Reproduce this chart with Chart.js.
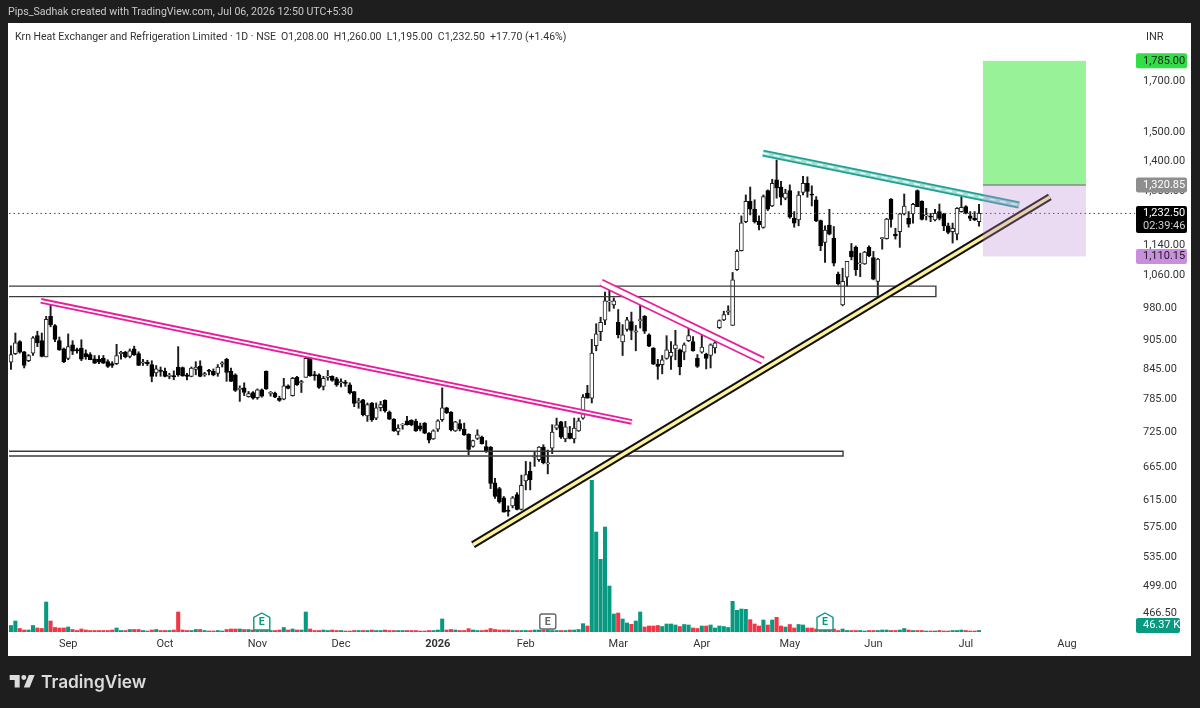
<!DOCTYPE html>
<html>
<head>
<meta charset="utf-8">
<title>Krn Heat Exchanger and Refrigeration Limited</title>
<script src="https://cdn.jsdelivr.net/npm/chart.js@4"></script>
<style>
  html, body { margin: 0; padding: 0; background: #1e1e1e; }
  #wrap { position: relative; width: 1200px; height: 708px; overflow: hidden; font-family: Roboto, sans-serif; }
  #panel { position: absolute; left: 8px; top: 23px; width: 1183px; height: 633px; background: #fff; }
  canvas { position: absolute; left: 0; top: 0; }
  #created { position: absolute; left: 8px; top: 5px; font-size: 10.6px; color: #c9c9c9; white-space: nowrap; }
  #title { position: absolute; left: 15px; top: 30px; font-size: 10.5px; color: #333; white-space: nowrap; }
  #logo { position: absolute; left: 8px; top: 670px; }
  #brand { position: absolute; left: 41px; top: 671px; font-family: Inter, sans-serif; font-size: 17.3px; font-weight: 600; color: #dcdcdc; }
</style>
</head>
<body>
<div id="wrap">
  <div id="panel"></div>
  <canvas id="chart" width="1200" height="708"></canvas>
  <div id="created">Pips_Sadhak created with TradingView.com, Jul 06, 2026 12:50 UTC+5:30</div>
  <div id="title">Krn Heat Exchanger and Refrigeration Limited · 1D · NSE &nbsp;O1,208.00 &nbsp;H1,260.00 &nbsp;L1,195.00 &nbsp;C1,232.50 &nbsp;+17.70 (+1.46%)</div>
  <svg id="logo" width="30" height="23.3" viewBox="0 0 36 28"><path fill="#dcdcdc" d="M14 6H2v6h6v9h6V6Zm12 15h-7l6-15h7l-6 15Zm-7-9a3 3 0 1 0 0-6 3 3 0 0 0 0 6Z"/></svg>
  <div id="brand">TradingView</div>
</div>
<script>
// daily candles
var opens = [
  859,877,903,881,862,878,916,905,870,960,
  939,905,887,867,896,884,889,877,875,866,
  865,867,860,856,856,877,880,871,887,877,
  857,857,854,837,841,840,830,831,849,848,
  833,830,844,851,833,841,840,836,855,865,
  840,833,804,807,790,798,788,803,840,796,
  797,787,785,811,792,828,817,828,867,832,
  833,810,828,830,825,817,817,813,800,778,
  784,754,778,750,769,783,761,748,726,737,
  745,746,744,736,741,723,713,730,747,769,
  761,727,740,730,721,700,714,716,700,699,
  641,632,618,600,606,623,601,644,659,682,
  678,699,671,697,732,743,713,723,713,727,
  750,797,787,894,925,951,994,987,946,902,
  930,948,924,950,960,918,889,855,854,867,
  871,887,885,880,905,903,867,880,876,873,
  889,934,952,970,939,1075,1126,1208,1269,1245,
  1210,1191,1303,1255,1337,1314,1279,1303,1218,1213,
  1297,1326,1289,1274,1211,1149,1198,1161,1064,987,
  1056,1125,1136,1090,1090,1135,1107,1045,1159,1159,
  1276,1172,1179,1231,1218,1231,1303,1269,1225,1223,
  1213,1238,1231,1196,1179,1172,1238,1253,1225,1218,
  1208
];
var highs = [
  894,922,905,882,875,914,926,922,960,987,
  941,913,889,920,905,889,907,885,879,873,
  873,873,864,860,897,882,882,887,893,881,
  865,863,862,852,849,847,836,841,892,849,
  836,849,860,862,838,844,845,854,860,867,
  847,835,811,817,800,800,805,805,841,800,
  799,791,826,813,828,830,822,875,868,840,
  835,830,842,831,828,825,822,817,800,787,
  785,778,779,778,781,784,763,749,738,740,
  753,747,748,741,742,724,729,747,807,770,
  762,744,747,741,722,711,729,718,710,700,
  648,634,620,606,620,626,653,675,674,691,
  700,703,694,738,750,744,744,735,750,750,
  794,812,908,943,958,1018,1031,1004,976,941,
  958,970,939,987,962,920,890,865,873,916,
  903,928,887,900,933,914,875,920,878,898,
  907,952,972,985,1068,1128,1225,1289,1314,1274,
  1225,1289,1305,1339,1403,1332,1307,1321,1238,1300,
  1349,1347,1318,1284,1213,1196,1245,1194,1069,1079,
  1097,1146,1139,1119,1124,1139,1124,1105,1163,1218,
  1278,1189,1233,1292,1238,1263,1305,1271,1248,1233,
  1245,1261,1233,1204,1204,1250,1284,1256,1238,1238,
  1260
];
var lows = [
  844,875,878,847,860,873,892,870,870,936,
  903,884,858,864,875,878,862,865,864,856,
  856,856,848,848,854,865,868,868,873,852,
  852,852,819,830,830,829,825,823,830,830,
  823,829,833,829,830,833,831,830,849,820,
  820,800,781,792,789,785,785,789,804,791,
  788,781,784,805,791,812,798,828,830,822,
  806,803,822,820,810,809,810,795,771,768,
  754,744,744,747,763,761,747,726,720,730,
  737,736,726,727,722,706,712,726,744,758,
  727,726,727,719,686,699,712,704,690,632,
  617,610,597,591,603,600,600,630,630,667,
  675,671,655,688,729,714,708,713,706,726,
  748,787,778,883,905,941,972,979,911,873,
  926,907,883,933,921,892,854,824,835,865,
  844,864,833,864,903,882,848,878,845,847,
  878,932,950,964,939,1073,1125,1205,1228,1204,
  1184,1189,1241,1253,1279,1258,1274,1218,1192,1196,
  1289,1282,1255,1208,1126,1094,1170,1085,1036,985,
  1033,1101,1060,1057,1089,1110,1049,1010,1130,1158,
  1192,1158,1135,1228,1192,1204,1253,1213,1213,1208,
  1210,1213,1182,1173,1147,1156,1236,1231,1211,1211,
  1195
];
var closes = [
  875,900,880,852,873,911,900,871,953,941,
  908,885,860,892,882,883,865,870,864,857,
  859,857,850,852,873,878,870,883,875,852,
  857,856,830,845,840,830,830,829,833,831,
  830,847,849,830,833,840,833,849,855,838,
  820,802,804,798,796,787,803,791,805,796,
  789,783,811,806,826,813,817,867,831,831,
  808,826,829,822,813,817,816,797,777,782,
  756,775,747,769,775,763,748,727,732,737,
  738,738,727,730,723,711,727,745,769,760,
  729,743,730,720,695,710,720,705,691,640,
  620,612,597,598,618,601,637,654,646,682,
  699,673,672,725,738,716,734,714,732,745,
  789,787,878,920,946,997,995,997,918,918,
  952,928,925,950,926,893,855,850,864,885,
  880,896,849,896,916,883,850,891,867,896,
  900,950,964,970,1049,1124,1205,1269,1245,1208,
  1199,1284,1245,1326,1311,1282,1295,1221,1204,1289,
  1326,1300,1288,1210,1139,1184,1172,1092,1039,1045,
  1097,1109,1075,1091,1122,1112,1051,1103,1160,1216,
  1215,1167,1231,1255,1201,1260,1253,1215,1225,1221,
  1233,1218,1196,1177,1189,1248,1251,1233,1218,1213,
  1232.5
];
// volume in thousands
var volumes = [
  195,330,105,60,60,195,120,105,900,330,
  135,120,120,150,75,45,90,60,45,45,
  45,45,45,60,120,45,45,75,75,75,
  45,30,60,75,45,45,45,60,600,60,
  45,45,75,75,45,30,30,45,30,75,
  90,90,90,75,75,60,45,45,45,45,
  45,60,135,60,90,60,60,600,90,45,
  45,60,45,60,45,45,30,30,45,45,
  45,45,60,45,45,60,45,45,45,45,
  45,45,45,30,30,45,45,60,390,60,
  75,60,45,45,100,60,45,45,60,105,
  75,60,60,60,45,45,45,45,45,60,
  60,60,60,45,45,45,45,60,60,75,
  250,180,4550,3000,2180,3150,1380,540,570,390,
  270,230,330,600,150,180,180,195,165,240,
  240,210,165,225,210,120,105,180,180,210,
  120,180,165,135,920,650,690,680,370,240,
  180,360,210,360,440,180,150,225,120,225,
  210,120,120,90,60,60,60,90,45,90,
  45,45,45,45,30,45,45,45,60,60,
  45,45,60,105,60,45,45,45,30,30,
  30,45,30,30,45,45,60,45,30,30,
  46.37
];

// axis ticks
var monthBars = [13,35,56,75,97,117,138,157,177,196,217,240];
var monthLabels = ["Sep","Oct","Nov","Dec","2026","Feb","Mar","Apr","May","Jun","Jul","Aug"];
var priceTicks = [1700,1500,1400,1300,1140,1060,980,905,845,785,725,665,615,575,535,499,466.5];

// drawings: bar numbers and prices of the end points
var longFallX = [6.8,141.1],   longFallY = [997,743];
var shortFallX = [134.1,170.9], shortFallY = [1042,862];
var topFallX = [170.9,229.1],  topFallY = [1427,1258];
var riseX = [105,236.1],       riseY = [551.5,1283];
var upperZoneX = [-0.45,210.2], upperZoneY = [1033,1007];
var lowerZoneX = [-0.45,189.1], lowerZoneY = [692,684];

var earningsBars = [57,122,185];
var lastPrice = 1232.5;
var countdown = "02:39:46";
var targetPrice = 1785, entryPrice = 1320.85, stopPrice = 1110.15;
var positionBars = [220.9,244.3];

var barIdx = opens.map(function(v, i){ return i; });
function isUp(i){ return closes[i] >= opens[i]; }

function lineSet(xs, ys, color, width, order, dash){
	return {
		type: "line",
		data: xs.map(function(x, i){ return {x: x, y: ys[i]}; }),
		borderColor: color,
		borderWidth: width,
		borderDash: dash || [],
		pointRadius: 0,
		tension: 0,
		yAxisID: "y",
		order: order
	};
}
function zoneSet(xs, ys){
	return lineSet([xs[0],xs[1],xs[1],xs[0]], [ys[0],ys[0],ys[1],ys[1]], "#3c3c3c", 1.4, 6);
}

var datasets = [
	{
		data: barIdx.map(function(i){ return {x: i, y: volumes[i]}; }),
		yAxisID: "yVol",
		grouped: false,
		barThickness: 3.4,
		backgroundColor: barIdx.map(function(i){ return isUp(i) ? "#089981" : "#f23645"; }),
		order: 10
	},
	{
		data: barIdx.map(function(i){ return {x: i, y: [lows[i], highs[i]]}; }),
		yAxisID: "y",
		grouped: false,
		barThickness: 1.3,
		backgroundColor: "#1c1c1c",
		order: 9
	},
	{
		data: barIdx.map(function(i){ return {x: i, y: [opens[i], closes[i]]}; }),
		yAxisID: "y",
		grouped: false,
		barThickness: 4,
		minBarLength: 1.2,
		borderSkipped: false,
		borderWidth: 1,
		borderColor: barIdx.map(function(i){ return isUp(i) ? "#222" : "#000"; }),
		backgroundColor: barIdx.map(function(i){ return isUp(i) ? "#fff" : "#000"; }),
		order: 8
	},
	lineSet([-0.45,255.45], [lastPrice,lastPrice], "#444", 1, 7, [1.5,3]),
	zoneSet(upperZoneX, upperZoneY),
	zoneSet(lowerZoneX, lowerZoneY),
	lineSet(longFallX, longFallY, "#e91e9c", 5.6, 5),
	lineSet(longFallX, longFallY, "#fff", 1.8, 4),
	lineSet(shortFallX, shortFallY, "#e91e9c", 8, 5),
	lineSet(shortFallX, shortFallY, "#fff", 4.6, 4),
	lineSet(topFallX, topFallY, "#1fa292", 7, 5),
	lineSet(topFallX, topFallY, "#a3dcd5", 3.4, 4),
	lineSet(topFallX, topFallY, "#fff", 1.2, 3, [6,5]),
	lineSet(riseX, riseY, "#111", 7.4, 5),
	lineSet(riseX, riseY, "#fdf29a", 3.4, 4)
];

function money(v){
	return v.toLocaleString("en-US", {minimumFractionDigits: 2, maximumFractionDigits: 2});
}

function drawBadge(ctx, top, height, width, fill, lines, textColors){
	ctx.fillStyle = fill;
	ctx.beginPath();
	ctx.roundRect(1136, top, width, height, 2);
	ctx.fill();
	ctx.textAlign = "left";
	ctx.textBaseline = "middle";
	ctx.font = "11px Roboto";
	lines.forEach(function(text, i){
		ctx.fillStyle = textColors[i];
		ctx.fillText(text, 1143, top + 7.5 + i * 13);
	});
}

var positionPlugin = {
	id: "positionBox",
	afterDatasetsDraw: function(chart){
		var ctx = chart.ctx, x = chart.scales.x, y = chart.scales.y;
		var left = x.getPixelForValue(positionBars[0]), right = x.getPixelForValue(positionBars[1]);
		var top = y.getPixelForValue(targetPrice), mid = y.getPixelForValue(entryPrice), low = y.getPixelForValue(stopPrice);

		// earnings flags
		earningsBars.forEach(function(bar, i){
			var cx = x.getPixelForValue(bar), base = chart.chartArea.bottom;
			var color = i == 1 ? "#666" : "#089981";
			ctx.fillStyle = "#fff";
			ctx.strokeStyle = color;
			ctx.lineWidth = 1.4;
			ctx.beginPath();
			if(i == 1){
				ctx.roundRect(cx - 8, base - 18, 16, 15, 2);
			}else{
				ctx.moveTo(cx, base - 19);
				ctx.lineTo(cx + 8, base - 14.5);
				ctx.lineTo(cx + 8, base - 2);
				ctx.lineTo(cx - 8, base - 2);
				ctx.lineTo(cx - 8, base - 14.5);
				ctx.closePath();
			}
			ctx.fill();
			ctx.stroke();
			ctx.fillStyle = color;
			ctx.font = "bold 10.5px Roboto";
			ctx.textAlign = "center";
			ctx.textBaseline = "middle";
			ctx.fillText("E", cx, base - 10);
		});

		// long position box
		ctx.fillStyle = "rgba(50,230,50,0.5)";
		ctx.fillRect(left, top, right - left, mid - top);
		ctx.fillStyle = "rgba(185,135,215,0.3)";
		ctx.fillRect(left, mid, right - left, low - mid);
		ctx.strokeStyle = "#888";
		ctx.lineWidth = 1.5;
		ctx.beginPath();
		ctx.moveTo(left, mid);
		ctx.lineTo(right, mid);
		ctx.stroke();
	},
	afterDraw: function(chart){
		var ctx = chart.ctx, y = chart.scales.y, yVol = chart.scales.yVol;
		ctx.save();
		ctx.fillStyle = "#333";
		ctx.font = "11px Roboto";
		ctx.textAlign = "left";
		ctx.textBaseline = "middle";
		ctx.fillText("INR", 1146, 37);

		drawBadge(ctx, y.getPixelForValue(targetPrice) - 7.5, 15, 51, "#33dd47", [money(targetPrice)], ["#1b1b1b"]);
		drawBadge(ctx, y.getPixelForValue(entryPrice) - 7.5, 15, 51, "#8e8e8e", [money(entryPrice)], ["#fff"]);
		drawBadge(ctx, y.getPixelForValue(lastPrice) - 7.5, 27, 51, "#000", [money(lastPrice), countdown], ["#fff", "#d0d0d0"]);
		drawBadge(ctx, y.getPixelForValue(stopPrice) - 7.5, 15, 51, "#c98fdc", [money(stopPrice)], ["#1b1b1b"]);

		var lastVol = volumes[volumes.length - 1];
		var volTop = Math.min(yVol.getPixelForValue(lastVol), chart.chartArea.bottom - 6.5) - 7.5;
		drawBadge(ctx, volTop, 15, 44, "#089981", [lastVol.toFixed(2) + " K"], ["#fff"]);
		ctx.restore();
	}
};

new Chart(document.getElementById("chart"), {
	type: "bar",
	data: {datasets: datasets},
	plugins: [positionPlugin],
	options: {
		responsive: false,
		animation: false,
		events: [],
		layout: {padding: {left: 9, top: 24, right: 9, bottom: 52}},
		plugins: {legend: {display: false}, tooltip: {enabled: false}},
		scales: {
			x: {
				type: "linear",
				min: -0.45,
				max: 255.45,
				offset: false,
				grid: {display: false, drawTicks: false},
				border: {display: false},
				afterBuildTicks: function(scale){
					scale.ticks = monthBars.map(function(b){ return {value: b}; });
				},
				afterFit: function(scale){ scale.height = 24; },
				ticks: {
					autoSkip: false,
					maxRotation: 0,
					padding: 6,
					color: "#333",
					font: function(ctx){
						var isYear = ctx.tick && monthBars.indexOf(ctx.tick.value) == 4;
						return {family: "Roboto", size: 11, weight: isYear ? "bold" : "normal"};
					},
					callback: function(value){
						return monthLabels[monthBars.indexOf(value)];
					}
				}
			},
			y: {
				type: "logarithmic",
				position: "right",
				min: 446.2,
				max: 1952,
				grid: {display: false, drawTicks: false},
				border: {display: false},
				afterBuildTicks: function(scale){
					scale.ticks = priceTicks.map(function(p){ return {value: p}; });
				},
				afterFit: function(scale){ scale.width = 56; },
				ticks: {
					autoSkip: false,
					padding: 8,
					crossAlign: "near",
					color: "#333",
					font: {family: "Roboto", size: 11},
					callback: function(value){ return money(value); }
				}
			},
			yVol: {
				type: "linear",
				display: false,
				min: 0,
				max: 18240
			}
		}
	}
});
</script>
</body>
</html>
